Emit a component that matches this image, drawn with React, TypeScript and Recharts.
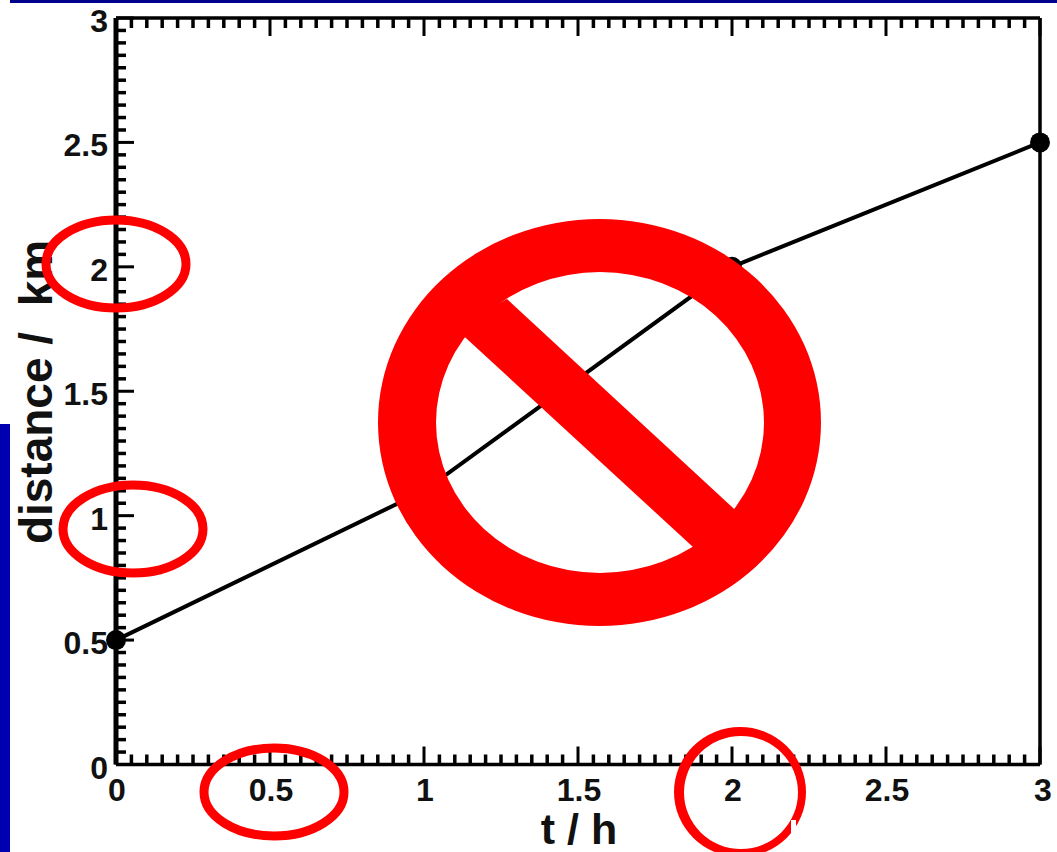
import React from 'react';
import { LineChart, Line, XAxis, YAxis, Label } from 'recharts';

const timeHours = [0, 1, 2, 3];
const distanceKm = [0.5, 1.1, 2, 2.5];
const majorTicks = [0, 0.5, 1, 1.5, 2, 2.5, 3];
const allTicks = [
  0, 0.05, 0.1, 0.15, 0.2, 0.25, 0.3, 0.35, 0.4, 0.45,
  0.5, 0.55, 0.6, 0.65, 0.7, 0.75, 0.8, 0.85, 0.9, 0.95,
  1, 1.05, 1.1, 1.15, 1.2, 1.25, 1.3, 1.35, 1.4, 1.45,
  1.5, 1.55, 1.6, 1.65, 1.7, 1.75, 1.8, 1.85, 1.9, 1.95,
  2, 2.05, 2.1, 2.15, 2.2, 2.25, 2.3, 2.35, 2.4, 2.45,
  2.5, 2.55, 2.6, 2.65, 2.7, 2.75, 2.8, 2.85, 2.9, 2.95,
  3,
];
const xTitle = 't / h';
const yTitle = 'distance /\u00a0\u00a0km';

const rows = timeHours.map((t, i) => ({ t, d: distanceKm[i] }));

const FONT = '"Liberation Sans", Arial, sans-serif';
const MAJOR = 18;
const MINOR = 10;
const isMajor = (v: number) => majorTicks.includes(v);

const BottomTick = ({ x, y, payload }: any) => {
  const m = isMajor(payload.value);
  return (
    <g>
      <line x1={x} x2={x} y1={y} y2={y - (m ? MAJOR : MINOR)} stroke="#000" strokeWidth={m ? 3 : 3.5} />
      {m && (
        <text x={x + (payload.value === 3 ? 3 : 1)} y={y + 36} textAnchor="middle" fontFamily={FONT} fontWeight="bold" fontSize={32} fill="#111">
          {payload.value}
        </text>
      )}
    </g>
  );
};
const TopTick = ({ x, y, payload }: any) => {
  const m = isMajor(payload.value);
  return <line x1={x} x2={x} y1={y} y2={y + (m ? MAJOR : MINOR)} stroke="#000" strokeWidth={m ? 3 : 3.5} />;
};
const LeftTick = ({ x, y, payload }: any) => {
  const m = isMajor(payload.value);
  return (
    <g>
      <line x1={x} x2={x + (m ? MAJOR : MINOR)} y1={y} y2={y} stroke="#000" strokeWidth={m ? 3 : 3.5} />
      {m && (
        <text x={x - 8} y={y + 14} textAnchor="end" fontFamily={FONT} fontWeight="bold" fontSize={32} fill="#111">
          {payload.value}
        </text>
      )}
    </g>
  );
};
const RightTick = ({ x, y, payload }: any) => {
  const m = isMajor(payload.value);
  return <line x1={x} x2={x - (m ? MAJOR : MINOR)} y1={y} y2={y} stroke="#000" strokeWidth={m ? 3 : 3.5} />;
};

const XTitle = () => (
  <text x={579} y={844} textAnchor="middle" fontFamily={FONT} fontWeight="bold" fontSize={43} fill="#111">
    {xTitle}
  </text>
);
const YTitle = () => {
  const x = 52;
  const y = 392;
  return (
    <text x={x} y={y} transform={`rotate(-90 ${x} ${y})`} textAnchor="middle" fontFamily={FONT} fontWeight="bold" fontSize={46} fill="#111">
      {yTitle}
    </text>
  );
};

const Overlay = () => (
  <svg width={1057} height={852} style={{ position: 'absolute', left: 0, top: 0, pointerEvents: 'none' }}>
    <rect x={10} y={0} width={1047} height={3} fill="#00008b" />
    <rect x={0} y={424} width={10} height={428} fill="#0000b0" />
    <ellipse cx={116} cy={264} rx={70} ry={44} fill="none" stroke="#ff0000" strokeWidth={9} />
    <ellipse cx={133} cy={529} rx={70} ry={44} fill="none" stroke="#ff0000" strokeWidth={9} />
    <ellipse cx={274} cy={792} rx={70} ry={44} fill="none" stroke="#ff0000" strokeWidth={9} />
    <path
      fillRule="evenodd"
      fill="#ff0000"
      d="M674 792a66 65 0 1 0 132 0a66 65 0 1 0 -132 0ZM684 792.5a57 56.5 0 1 0 114 0a57 56.5 0 1 0 -114 0Z"
    />
    <polygon fill="#fff" points="791,820 796,820 796,827 830,827 830,852 791,852" />
    <path
      fillRule="evenodd"
      fill="#ff0000"
      d="M378 422.5a221.5 203.5 0 1 0 443 0a221.5 203.5 0 1 0 -443 0ZM436 422.5a164 150.5 0 1 0 328 0a164 150.5 0 1 0 -328 0Z"
    />
    <polygon fill="#ff0000" points="507,299 745,519 693,547 455,328" />
  </svg>
);

export default function App() {
  return (
    <div style={{ position: 'absolute', left: 0, top: 0, width: 1057, height: 852, background: '#fff' }}>
      <LineChart width={1057} height={852} data={rows} margin={{ top: 17, right: 16, bottom: 86.5, left: 115 }}>
        <XAxis xAxisId="bottom" dataKey="t" type="number" domain={[0, 3]} ticks={allTicks} interval={0} height={1} tickSize={0} tickMargin={0} tickLine={false} axisLine={{ stroke: '#000', strokeWidth: 3.5 }} tick={BottomTick}>
          <Label content={XTitle} />
        </XAxis>
        <XAxis xAxisId="top" orientation="top" dataKey="t" type="number" domain={[0, 3]} ticks={allTicks} interval={0} height={1} tickSize={0} tickMargin={0} tickLine={false} axisLine={{ stroke: '#000', strokeWidth: 3.5 }} tick={TopTick} />
        <YAxis yAxisId="left" type="number" domain={[0, 3]} ticks={allTicks} interval={0} width={1} tickSize={0} tickMargin={0} tickLine={false} axisLine={{ stroke: '#000', strokeWidth: 5 }} tick={LeftTick}>
          <Label content={YTitle} />
        </YAxis>
        <YAxis yAxisId="right" orientation="right" type="number" domain={[0, 3]} ticks={allTicks} interval={0} width={1} tickSize={0} tickMargin={0} tickLine={false} axisLine={{ stroke: '#000', strokeWidth: 3.5 }} tick={RightTick} />
        <Line xAxisId="bottom" yAxisId="left" dataKey="d" type="linear" stroke="#000" strokeWidth={4} dot={{ r: 10, fill: '#000', stroke: '#000', strokeWidth: 0 }} isAnimationActive={false} />
      </LineChart>
      <Overlay />
    </div>
  );
}
